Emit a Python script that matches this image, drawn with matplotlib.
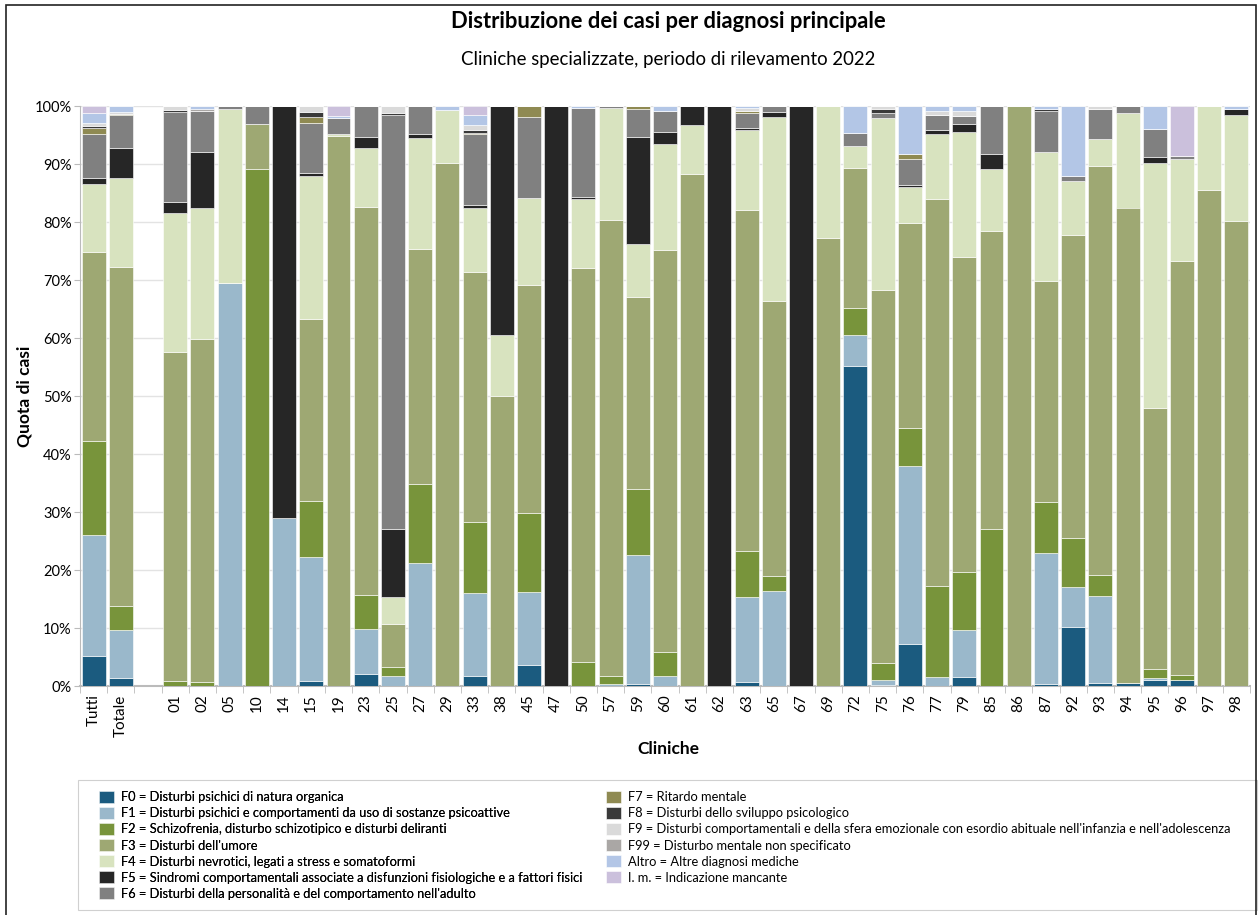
import numpy as np
import matplotlib
matplotlib.use("Agg")
import matplotlib.pyplot as plt
from matplotlib.patches import Rectangle
from matplotlib.ticker import FixedLocator, PercentFormatter

plt.rcParams['font.family'] = ['Lato', 'DejaVu Sans']

cliniche = ['Tutti', 'Totale', '01', '02', '05', '10', '14', '15', '19', '23', '25', '27', '29',
            '33', '38', '45', '47', '50', '57', '59', '60', '61', '62', '63', '65', '67', '69',
            '72', '75', '76', '77', '79', '85', '86', '87', '92', '93', '94', '95', '96', '97', '98']

# quote in %
f0 = [5.2, 1.4, 0, 0, 0, 0, 0, 0.9, 0, 2.1, 0, 0, 0, 1.7, 0, 3.6, 0, 0, 0, 0.3, 0, 0, 0, 0.7, 0,
      0, 0, 55.2, 0.2, 7.2, 0, 1.6, 0, 0, 0.4, 10.2, 0.5, 0.6, 1.0, 1.0, 0, 0]
f1 = [20.9, 8.3, 0, 0, 69.5, 0, 28.9, 21.4, 0, 7.7, 1.7, 21.2, 0, 14.3, 0, 12.6, 0, 0, 0.3, 22.3,
      1.7, 0, 0, 14.6, 16.4, 0, 0, 5.3, 0.8, 30.7, 1.6, 8.0, 0, 0, 22.5, 6.8, 15.1, 0, 0.4, 0, 0, 0]
f2 = [16.1, 4.1, 0.9, 0.7, 0, 89.2, 0, 9.6, 0, 5.9, 1.6, 13.7, 0, 12.2, 0, 13.6, 0, 4.2, 1.4, 11.3,
      4.2, 0, 0, 7.9, 2.6, 0, 0, 4.6, 2.9, 6.6, 15.7, 10.1, 27.0, 0, 8.9, 8.6, 3.6, 0, 1.5, 0.9, 0, 0]
f3 = [32.7, 58.4, 56.7, 59.2, 0, 7.7, 0, 31.4, 94.8, 66.9, 7.4, 40.4, 90.2, 43.2, 50.0, 39.3, 0,
      67.9, 78.7, 33.1, 69.3, 88.2, 0, 58.8, 47.4, 0, 77.2, 24.2, 64.4, 35.3, 66.7, 54.3, 51.4, 100,
      38.1, 52.2, 70.4, 81.9, 45.1, 71.3, 85.6, 80.1]
f4 = [11.6, 15.4, 23.9, 22.6, 29.9, 0, 0, 24.7, 0.3, 10.1, 4.7, 19.2, 9.1, 11.0, 10.6, 15.0, 0,
      11.9, 19.2, 9.2, 18.3, 8.5, 0, 13.8, 31.7, 0, 22.8, 3.8, 29.7, 6.2, 11.2, 21.6, 10.8, 0, 22.2,
      9.3, 4.7, 16.3, 42.2, 17.7, 14.4, 18.4]
f5 = [1.1, 5.2, 2.0, 9.6, 0, 0, 71.1, 0.5, 0, 2.0, 11.7, 0.7, 0, 0.5, 39.4, 0, 100, 0.3, 0, 18.5,
      2.1, 3.3, 100, 0.4, 0.9, 100, 0, 0, 0, 0.3, 0.7, 1.3, 2.6, 0, 0, 0, 0, 0, 1.0, 0, 0, 0.9]
f6 = [7.6, 5.6, 15.5, 7.1, 0.6, 3.1, 0, 8.6, 2.9, 5.3, 71.4, 4.8, 0, 12.2, 0, 14.0, 0, 15.3, 0.4,
      4.7, 3.5, 0, 0, 2.6, 1.0, 0, 0, 2.3, 0.8, 4.6, 2.5, 1.3, 8.2, 0, 7.0, 0.9, 5.1, 1.2, 4.9, 0.5, 0, 0]
f7 = [1.0, 0.3, 0, 0, 0, 0, 0, 1.0, 0, 0, 0, 0, 0, 0.2, 0, 1.9, 0, 0, 0, 0.6, 0, 0, 0, 0.3, 0, 0,
      0, 0, 0, 0.8, 0, 0, 0, 0, 0, 0, 0, 0, 0, 0, 0, 0]
f8 = [0.3, 0, 0.3, 0, 0, 0, 0, 0.9, 0, 0, 0.3, 0, 0, 0.6, 0, 0, 0, 0, 0, 0, 0, 0, 0, 0, 0, 0, 0, 0,
      0.6, 0, 0, 0, 0, 0, 0.4, 0, 0, 0, 0, 0, 0, 0]
f9 = [0.5, 0.2, 0.7, 0, 0, 0, 0, 1.0, 0, 0, 1.2, 0, 0, 0.8, 0, 0, 0, 0, 0, 0, 0, 0, 0, 0.6, 0, 0, 0,
      0, 0.6, 0, 0.8, 1.0, 0, 0, 0, 0, 0.6, 0, 0, 0, 0, 0]
f99 = [0, 0, 0, 0.2, 0, 0, 0, 0, 0, 0, 0, 0, 0, 0, 0, 0, 0, 0, 0, 0, 0, 0, 0, 0, 0, 0, 0, 0, 0, 0,
       0, 0, 0, 0, 0, 0, 0, 0, 0, 0, 0, 0]
altro = [1.8, 1.1, 0, 0.6, 0, 0, 0, 0, 0.3, 0, 0, 0, 0.7, 1.7, 0, 0, 0, 0.4, 0, 0, 0.9, 0, 0, 0.3,
         0, 0, 0, 4.6, 0, 8.3, 0.8, 0.8, 0, 0, 0.5, 12.0, 0, 0, 3.9, 0, 0, 0.6]
im = [1.2, 0, 0, 0, 0, 0, 0, 0, 1.7, 0, 0, 0, 0, 1.6, 0, 0, 0, 0, 0, 0, 0, 0, 0, 0, 0, 0, 0, 0, 0,
      0, 0, 0, 0, 0, 0, 0, 0, 0, 0, 8.6, 0, 0]

serie = [f0, f1, f2, f3, f4, f5, f6, f7, f8, f9, f99, altro, im]
etichette = [
    "F0 = Disturbi psichici di natura organica",
    "F1 = Disturbi psichici e comportamenti da uso di sostanze psicoattive",
    "F2 = Schizofrenia, disturbo schizotipico e disturbi deliranti",
    "F3 = Disturbi dell'umore",
    "F4 = Disturbi nevrotici, legati a stress e somatoformi",
    "F5 = Sindromi comportamentali associate a disfunzioni fisiologiche e a fattori fisici",
    "F6 = Disturbi della personalità e del comportamento nell'adulto",
    "F7 = Ritardo mentale",
    "F8 = Disturbi dello sviluppo psicologico",
    "F9 = Disturbi comportamentali e della sfera emozionale con esordio abituale nell'infanzia e nell'adolescenza",
    "F99 = Disturbo mentale non specificato",
    "Altro = Altre diagnosi mediche",
    "I. m. = Indicazione mancante",
]
colori = ['#1b5b7f', '#9ab8cb', '#78943b', '#9ea873', '#d8e3bf', '#262626', '#808080',
          '#8f8a52', '#3a3a3a', '#dadada', '#aaa7a5', '#b3c6e6', '#cbc0dc']

W, H = 1259, 915
# posizioni: vuoto dopo "Totale"
x = np.array([i if i < 2 else i + 1 for i in range(len(cliniche))])

fig = plt.figure(figsize=(W / 100, H / 100), dpi=100)
ax = fig.add_axes([80 / W, 229 / H, 1170 / W, 580 / H])

base = np.zeros(len(cliniche))
handles = []
for vals, col, lab in zip(serie, colori, etichette):
    v = np.array(vals, dtype=float)
    b = ax.bar(x, v, bottom=base, width=0.88, color=col, edgecolor='white', linewidth=0.4,
               label=lab, zorder=3)
    handles.append(b)
    base += v

ax.set_xlim(-0.5, len(cliniche) + 0.5)
ax.set_ylim(0, 100)
ax.yaxis.set_major_locator(FixedLocator(np.arange(0, 101, 10)))
ax.yaxis.set_major_formatter(PercentFormatter(decimals=0))
ax.grid(axis='y', color='#e3e3e3', linewidth=1, zorder=0)

ax.set_xticks(x)
ax.set_xticklabels(cliniche, rotation=90, fontsize=11)
ax.tick_params(axis='x', length=0, pad=6)
ax.set_xticks(np.arange(-0.5, len(cliniche) + 1, 1), minor=True)
ax.tick_params(axis='x', which='minor', length=5, color='#bbbbbb')
ax.tick_params(axis='y', labelsize=10.5, length=4, color='#bbbbbb', pad=2)

for s in ['top', 'right']:
    ax.spines[s].set_visible(False)
ax.spines['left'].set_color('#bbbbbb')
ax.spines['bottom'].set_color('#bbbbbb')
ax.spines['bottom'].set_linewidth(1.5)

ax.set_ylabel('Quota di casi', fontsize=12.5, fontweight='bold')
ax.yaxis.set_label_coords((33 - 80) / 1170, 0.5)
ax.set_xlabel('Cliniche', fontsize=12.5, fontweight='bold')
ax.xaxis.set_label_coords((668 - 80) / 1170, (686 - 741) / 580)

fig.text(668 / W, 1 - 22 / H, 'Distribuzione dei casi per diagnosi principale',
         ha='center', va='center', fontsize=15.8, fontweight='bold')
fig.text(668 / W, 1 - 60 / H, 'Cliniche specializzate, periodo di rilevamento 2022',
         ha='center', va='center', fontsize=13.4)

# riquadro della legenda
fig.patches.append(Rectangle((78 / W, 1 - 910 / H), 1179 / W, 130 / H, transform=fig.transFigure,
                             fill=False, edgecolor='#d0d0d0', linewidth=0.8))
leg_kw = dict(loc='upper left', fontsize=9.25, frameon=False, handlelength=1.2,
              handleheight=1.05, handletextpad=0.55, labelspacing=0.29, borderpad=0,
              borderaxespad=0)
leg1 = fig.legend(handles[:7], etichette[:7], bbox_to_anchor=(99 / W, 1 - 791 / H), **leg_kw)
fig.add_artist(leg1)
fig.legend(handles[7:], etichette[7:], bbox_to_anchor=(606 / W, 1 - 791 / H), **leg_kw)

# cornice esterna
fig.patches.append(Rectangle((6 / W, -0.01), 1250 / W, 1.0 - 5 / H + 0.01,
                             transform=fig.transFigure, fill=False, edgecolor='#222222',
                             linewidth=1.2))

fig.savefig('out.png', dpi=100)
